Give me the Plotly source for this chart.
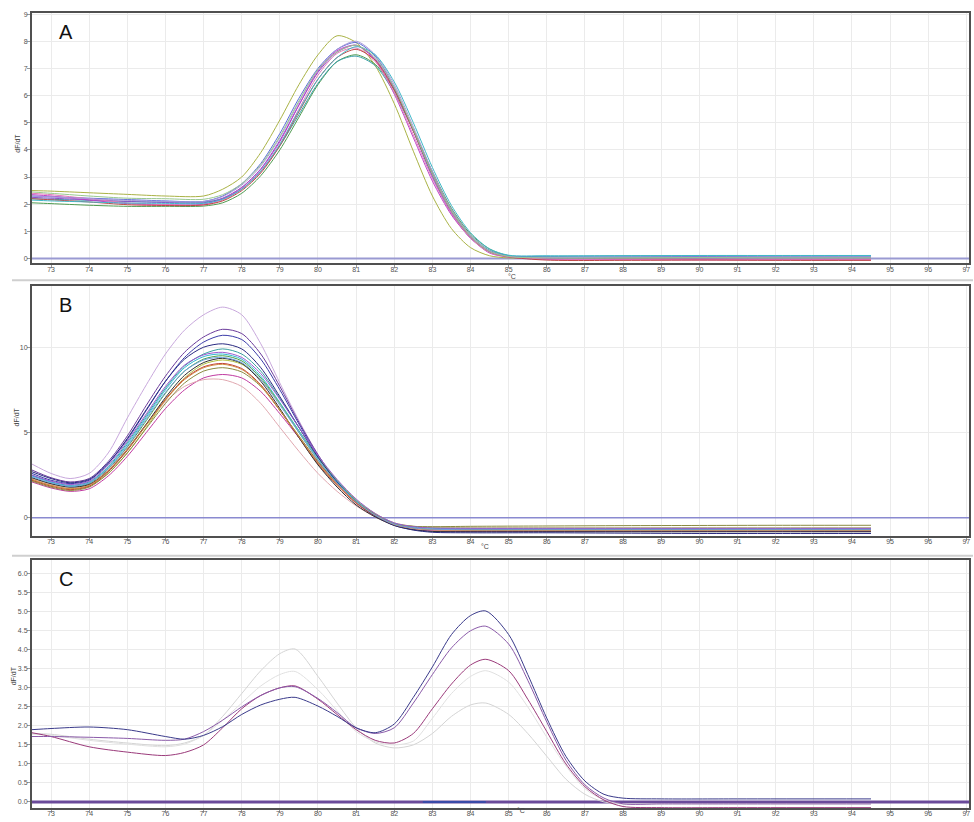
import plotly.graph_objects as go

# ---------------- data ----------------
X_TICKS = list(range(73, 98))

# Panel A
A_X = [72.5, 73, 74, 75, 76, 77, 77.5, 78, 78.5, 79, 79.5, 80, 80.5, 81, 81.5, 82, 82.5, 83, 83.5, 84, 84.5, 85, 86, 88, 90, 92, 94.5]
A_YELLOWGREEN = [2.5, 2.48, 2.42, 2.36, 2.3, 2.3, 2.55, 3.0, 3.9, 5.1, 6.4, 7.5, 8.2, 7.95, 7.1, 5.7, 3.95, 2.3, 1.1, 0.4, 0.1, 0.02, 0.0, 0.0, -0.02, -0.03, -0.03]
A_DARKGREEN = [2.05, 2.02, 1.96, 1.92, 1.92, 1.93, 2.05, 2.4, 3.05, 4.0, 5.2, 6.4, 7.25, 7.5, 7.15, 6.2, 4.75, 3.2, 1.85, 0.9, 0.35, 0.1, 0.02, 0.03, 0.04, 0.04, 0.04]
A_TEAL = [2.2, 2.18, 2.14, 2.1, 2.08, 2.08, 2.2, 2.55, 3.2, 4.15, 5.3, 6.45, 7.25, 7.45, 7.1, 6.1, 4.7, 3.15, 1.8, 0.85, 0.3, 0.1, 0.08, 0.1, 0.1, 0.1, 0.1]
A_BLUE = [2.3, 2.27, 2.22, 2.17, 2.12, 2.1, 2.3, 2.75, 3.5, 4.6, 5.9, 7.0, 7.7, 7.95, 7.45, 6.3, 4.7, 3.0, 1.65, 0.75, 0.25, 0.08, 0.05, 0.06, 0.07, 0.06, 0.06]
A_PURPLE = [2.25, 2.22, 2.16, 2.1, 2.06, 2.05, 2.22, 2.62, 3.3, 4.35, 5.65, 6.85, 7.6, 7.85, 7.35, 6.25, 4.7, 3.05, 1.7, 0.78, 0.25, 0.07, 0.0, -0.02, -0.02, -0.02, -0.02]
A_MAGENTA = [2.35, 2.3, 2.15, 2.02, 1.98, 2.0, 2.2, 2.6, 3.28, 4.3, 5.65, 6.9, 7.65, 7.85, 7.3, 6.05, 4.45, 2.85, 1.6, 0.75, 0.2, 0.05, -0.03, -0.04, -0.05, -0.05, -0.05]
A_PINK = [2.4, 2.35, 2.2, 2.05, 1.98, 1.98, 2.15, 2.55, 3.2, 4.2, 5.5, 6.75, 7.55, 7.75, 7.25, 6.1, 4.55, 2.95, 1.65, 0.75, 0.22, 0.06, -0.02, -0.03, -0.03, -0.03, -0.03]
A_RED = [2.2, 2.16, 2.08, 1.98, 1.95, 1.97, 2.12, 2.5, 3.15, 4.15, 5.4, 6.6, 7.4, 7.7, 7.3, 6.2, 4.7, 3.1, 1.75, 0.8, 0.25, 0.06, -0.06, -0.07, -0.06, -0.07, -0.07]
A_LAVENDER = [2.3, 2.27, 2.2, 2.14, 2.1, 2.1, 2.28, 2.7, 3.4, 4.45, 5.75, 6.95, 7.7, 8.0, 7.5, 6.4, 4.85, 3.2, 1.8, 0.85, 0.28, 0.08, 0.04, 0.05, 0.05, 0.05, 0.05]
A_CYAN = [2.15, 2.12, 2.08, 2.04, 2.03, 2.03, 2.18, 2.55, 3.22, 4.2, 5.45, 6.6, 7.4, 7.8, 7.5, 6.5, 5.0, 3.35, 1.95, 0.95, 0.35, 0.12, 0.1, 0.1, 0.11, 0.11, 0.11]
A_LIGHTGREEN = [2.45, 2.4, 2.3, 2.22, 2.2, 2.18, 2.35, 2.75, 3.45, 4.5, 5.8, 6.95, 7.6, 7.85, 7.4, 6.3, 4.75, 3.1, 1.75, 0.8, 0.25, 0.07, 0.02, 0.02, 0.03, 0.02, 0.02]

# Panel B
B_X = [72.5, 73, 73.5, 74, 74.5, 75, 75.5, 76, 76.5, 77, 77.5, 78, 78.5, 79, 79.5, 80, 80.5, 81, 81.5, 82, 82.5, 83, 84, 86, 88, 90, 92, 94.5]
B_LAVENDER = [3.15, 2.6, 2.3, 2.6, 3.8, 5.85, 7.8, 9.6, 11.0, 11.9, 12.35, 11.9, 10.2, 7.9, 5.7, 3.7, 2.1, 0.9, 0.1, -0.35, -0.5, -0.55, -0.58, -0.58, -0.58, -0.58, -0.58, -0.58]
B_DARKPURPLE = [2.8, 2.35, 2.1, 2.3, 3.3, 4.8, 6.6, 8.3, 9.7, 10.6, 11.05, 10.8, 9.6, 7.7, 5.6, 3.7, 2.1, 0.9, 0.1, -0.4, -0.62, -0.7, -0.72, -0.72, -0.72, -0.72, -0.72, -0.72]
B_BLUE = [2.6, 2.2, 2.0, 2.2, 3.2, 4.6, 6.3, 8.0, 9.4, 10.3, 10.7, 10.45, 9.3, 7.5, 5.5, 3.6, 2.1, 0.9, 0.1, -0.42, -0.68, -0.78, -0.8, -0.8, -0.8, -0.8, -0.8, -0.8]
B_TEAL = [2.5, 2.1, 1.9, 2.1, 3.0, 4.4, 6.0, 7.6, 8.9, 9.6, 9.9, 9.6, 8.6, 7.0, 5.3, 3.6, 2.2, 1.0, 0.2, -0.35, -0.6, -0.7, -0.72, -0.72, -0.72, -0.72, -0.72, -0.72]
B_GREEN = [2.3, 2.0, 1.8, 2.0, 2.85, 4.15, 5.7, 7.3, 8.6, 9.3, 9.5, 9.2, 8.2, 6.7, 5.0, 3.4, 2.05, 0.95, 0.15, -0.38, -0.6, -0.68, -0.7, -0.7, -0.7, -0.7, -0.7, -0.7]
B_YELLOWGREEN = [2.2, 1.9, 1.7, 1.85, 2.6, 3.8, 5.3, 6.9, 8.2, 9.0, 9.25, 9.0, 8.1, 6.7, 5.1, 3.55, 2.2, 1.05, 0.25, -0.3, -0.5, -0.58, -0.6, -0.6, -0.6, -0.6, -0.6, -0.6]
B_RED = [2.2, 1.85, 1.65, 1.85, 2.7, 3.95, 5.45, 6.95, 8.15, 8.85, 9.05, 8.75, 7.8, 6.3, 4.7, 3.15, 1.9, 0.85, 0.1, -0.4, -0.62, -0.7, -0.72, -0.72, -0.72, -0.72, -0.72, -0.72]
B_MAGENTA = [2.1, 1.75, 1.55, 1.7, 2.45, 3.6, 5.0, 6.4, 7.5, 8.2, 8.4, 8.2, 7.4, 6.1, 4.7, 3.25, 2.0, 0.95, 0.15, -0.4, -0.65, -0.75, -0.78, -0.78, -0.78, -0.78, -0.78, -0.78]
B_PINK = [2.3, 1.95, 1.75, 1.95, 2.8, 4.05, 5.5, 6.8, 7.7, 8.1, 8.1, 7.7, 6.7, 5.3, 3.9, 2.6, 1.55, 0.7, 0.05, -0.42, -0.65, -0.72, -0.75, -0.75, -0.75, -0.75, -0.75, -0.75]
B_BLACK = [2.35, 2.0, 1.8, 1.95, 2.75, 4.0, 5.5, 7.05, 8.35, 9.1, 9.35, 9.05, 8.0, 6.4, 4.7, 3.1, 1.8, 0.75, 0.05, -0.45, -0.7, -0.8, -0.82, -0.82, -0.82, -0.82, -0.82, -0.82]
B_CYAN = [2.45, 2.1, 1.85, 2.05, 2.95, 4.3, 5.9, 7.5, 8.8, 9.45, 9.6, 9.3, 8.3, 6.75, 5.1, 3.5, 2.15, 1.0, 0.2, -0.33, -0.55, -0.62, -0.64, -0.64, -0.64, -0.64, -0.64, -0.64]
B_NAVY = [2.7, 2.3, 2.05, 2.25, 3.2, 4.65, 6.35, 8.0, 9.3, 10.0, 10.2, 9.9, 8.8, 7.1, 5.3, 3.55, 2.1, 0.95, 0.12, -0.45, -0.72, -0.85, -0.88, -0.88, -0.9, -0.92, -0.92, -0.92]
B_OLIVE = [2.15, 1.8, 1.6, 1.8, 2.6, 3.8, 5.25, 6.7, 7.9, 8.6, 8.8, 8.55, 7.7, 6.3, 4.8, 3.3, 2.0, 0.95, 0.2, -0.35, -0.5, -0.52, -0.5, -0.48, -0.46, -0.45, -0.44, -0.44]
B_VIOLET = [2.5, 2.15, 1.95, 2.15, 3.1, 4.5, 6.1, 7.7, 8.95, 9.55, 9.7, 9.4, 8.45, 6.95, 5.3, 3.65, 2.25, 1.1, 0.25, -0.3, -0.52, -0.6, -0.62, -0.62, -0.62, -0.62, -0.62, -0.62]
B_ORANGE = [2.25, 1.9, 1.7, 1.9, 2.75, 4.0, 5.45, 6.9, 8.1, 8.8, 9.0, 8.7, 7.75, 6.3, 4.75, 3.2, 1.95, 0.9, 0.15, -0.4, -0.62, -0.7, -0.74, -0.74, -0.74, -0.74, -0.74, -0.74]
B_LIGHTBLUE = [2.4, 2.05, 1.85, 2.05, 2.9, 4.2, 5.8, 7.35, 8.6, 9.25, 9.4, 9.1, 8.1, 6.6, 5.0, 3.4, 2.05, 0.95, 0.15, -0.38, -0.6, -0.67, -0.7, -0.7, -0.7, -0.7, -0.7, -0.7]

# Panel C
C_X = [72.5, 73, 74, 75, 76, 76.5, 77, 77.5, 78, 78.5, 79, 79.4, 80, 80.5, 81, 81.5, 82, 82.5, 83, 83.5, 84, 84.4, 85, 85.5, 86, 86.5, 87, 87.5, 88, 89, 91, 94.5]
C_GRAY_1 = [1.8, 1.78, 1.65, 1.55, 1.48, 1.55, 1.75, 2.25, 2.85, 3.45, 3.9, 4.02, 3.3, 2.6, 1.95, 1.55, 1.42, 1.5, 1.8, 2.25, 2.55, 2.6, 2.3, 1.8, 1.2, 0.6, 0.2, 0.0, -0.05, -0.05, -0.05, -0.05]
C_GRAY_2 = [1.78, 1.75, 1.62, 1.52, 1.45, 1.52, 1.75, 2.15, 2.6, 3.05, 3.35, 3.43, 2.95, 2.4, 1.85, 1.58, 1.5, 1.6, 2.2, 2.85, 3.3, 3.45, 3.15, 2.5, 1.7, 0.95, 0.35, 0.05, -0.05, -0.05, -0.05, -0.05]
C_MAGENTA = [1.82, 1.72, 1.45, 1.31, 1.22, 1.3, 1.5, 1.95, 2.45, 2.8, 3.0, 3.05, 2.7, 2.3, 1.9, 1.62, 1.55, 1.8, 2.45, 3.1, 3.6, 3.75, 3.45, 2.7, 1.85, 1.0, 0.4, 0.05, -0.12, -0.15, -0.15, -0.15]
C_VIOLET = [1.72, 1.72, 1.7, 1.67, 1.62, 1.65, 1.85, 2.15, 2.5, 2.8, 3.0, 3.03, 2.72, 2.35, 1.95, 1.8, 1.95, 2.6, 3.35, 4.05, 4.5, 4.62, 4.15, 3.2, 2.1, 1.1, 0.45, 0.1, -0.05, -0.05, -0.05, -0.05]
C_NAVY = [1.9, 1.93, 1.97, 1.9, 1.72, 1.65, 1.75, 1.98, 2.3, 2.55, 2.7, 2.75, 2.52, 2.25, 1.95, 1.82, 2.05, 2.75, 3.55, 4.4, 4.9, 5.02, 4.4, 3.35, 2.2, 1.2, 0.55, 0.2, 0.1, 0.08, 0.08, 0.08]
C_SEG_X = [82.75, 84.4]
C_SEG_Y = [0, 0]

THRESH_X = [72.5, 97.1]
THRESH_Y = [0, 0]

A_SERIES = [
    (A_YELLOWGREEN, "#a9b245"), (A_DARKGREEN, "#4f9a4f"), (A_TEAL, "#3a9fa8"),
    (A_BLUE, "#5a6ad8"), (A_PURPLE, "#8a50c8"), (A_MAGENTA, "#c040c8"),
    (A_PINK, "#e07ab8"), (A_RED, "#c04848"), (A_LAVENDER, "#a898d8"),
    (A_CYAN, "#40b8c8"), (A_LIGHTGREEN, "#98c890"),
]
B_SERIES = [
    (B_LAVENDER, "#c8a8dc"), (B_DARKPURPLE, "#6a3a9a"), (B_BLUE, "#3a3aa8"),
    (B_TEAL, "#3aa0a0"), (B_GREEN, "#4aa04a"), (B_YELLOWGREEN, "#b0c040"),
    (B_RED, "#c03a3a"), (B_MAGENTA, "#c03aa0"), (B_PINK, "#e0a8b0"),
    (B_BLACK, "#303030"), (B_CYAN, "#30b8d0"), (B_NAVY, "#2a2a80"),
    (B_OLIVE, "#8a8a40"), (B_VIOLET, "#9a5ad0"), (B_ORANGE, "#d08a40"),
    (B_LIGHTBLUE, "#70a0e0"),
]
C_SERIES = [
    (C_GRAY_1, "#d4d4d4"), (C_GRAY_2, "#e0e0e0"), (C_MAGENTA, "#9a3a7a"),
    (C_VIOLET, "#8a5aa8"), (C_NAVY, "#3a3a8a"),
]

# ---------------- figure ----------------
fig = go.Figure()

def add_panel(xs, series, xa, ya, thresh_color, thresh_w):
    fig.add_trace(go.Scatter(x=THRESH_X, y=THRESH_Y, mode="lines",
                             line=dict(color=thresh_color, width=thresh_w),
                             xaxis=xa, yaxis=ya, showlegend=False, hoverinfo="skip"))
    for ys, col in series:
        fig.add_trace(go.Scatter(x=xs, y=ys, mode="lines",
                                 line=dict(color=col, width=1, shape="spline", smoothing=0.8),
                                 xaxis=xa, yaxis=ya, showlegend=False))

add_panel(A_X, A_SERIES, "x", "y", "#9a9ad2", 2)
add_panel(B_X, B_SERIES, "x2", "y2", "#8a8ad0", 1.5)
add_panel(C_X, C_SERIES, "x3", "y3", "#6a4a9a", 3)
fig.add_trace(go.Scatter(x=C_SEG_X, y=C_SEG_Y, mode="lines",
                         line=dict(color="#3a4aa8", width=2),
                         xaxis="x3", yaxis="y3", showlegend=False))

# body margin is removed by the post script, so work directly in page pixels
W, H = 974, 822

def px(p):
    return p / W

def py(p):
    return 1 - p / H

XDOM = [px(32), px(970)]
TICKFONT = dict(size=7, color="#555", family="Liberation Sans")

def xax(anchor):
    return dict(domain=XDOM, anchor=anchor, range=[72.5, 97.07],
                tickmode="array", tickvals=X_TICKS, ticktext=[str(t) for t in X_TICKS],
                ticks="outside", ticklen=3, tickcolor="#999", tickfont=TICKFONT,
                ticklabelstandoff=-5, ticklabeloverflow="allow",
                showgrid=True, gridcolor="#ebebeb", gridwidth=1,
                showline=True, linecolor="#505050", linewidth=2, mirror=True,
                zeroline=False)

def yax(top, bottom, anchor, rng, tickvals, fmt):
    return dict(domain=[py(bottom), py(top)], anchor=anchor, range=rng,
                tickmode="array", tickvals=tickvals, tickformat=fmt,
                ticks="outside", ticklen=3, tickcolor="#999", tickfont=TICKFONT,
                ticklabelstandoff=-2, ticklabeloverflow="allow",
                showgrid=True, gridcolor="#ebebeb", gridwidth=1,
                showline=True, linecolor="#505050", linewidth=2, mirror=True,
                zeroline=False)

fig.update_layout(
    width=W, height=H, margin=dict(l=0, r=0, t=0, b=0),
    paper_bgcolor="white", plot_bgcolor="white",
    xaxis=xax("y"),
    yaxis=yax(11, 262, "x", [-0.18, 9.04], list(range(0, 10)), "d"),
    xaxis2=xax("y2"),
    yaxis2=yax(285, 535, "x2", [-1.05, 13.57], [0, 5, 10], "d"),
    xaxis3=xax("y3"),
    yaxis3=yax(559, 808, "x3", [-0.16, 6.37], [i * 0.5 for i in range(13)], ".1f"),
)

ann = []
for lab, y in [("A", 30), ("B", 304), ("C", 578)]:
    ann.append(dict(text=lab, x=px(57), y=py(y), xref="paper", yref="paper",
                    xanchor="left", yanchor="middle", showarrow=False,
                    font=dict(size=20, color="#111", family="Liberation Sans")))
for x, y in [(12, 130), (12, 416), (8, 687)]:
    ann.append(dict(text="dF/dT", x=px(x), y=py(y), xref="paper", yref="paper",
                    textangle=-90, showarrow=False,
                    font=dict(size=7, color="#444", family="Liberation Sans")))
for x, y in [(513, 275), (485, 551), (522, 816)]:
    ann.append(dict(text="°C", x=px(x), y=py(y), xref="paper", yref="paper",
                    showarrow=False,
                    font=dict(size=7, color="#444", family="Liberation Sans")))
fig.update_layout(annotations=ann)

shapes = []
for y in [279, 555]:
    shapes.append(dict(type="line", xref="paper", yref="paper",
                       x0=px(12), x1=1, y0=py(y), y1=py(y),
                       line=dict(color="#cfcfcf", width=2)))
fig.update_layout(shapes=shapes)

fig.write_html(
    "out.html",
    config={"displayModeBar": False},
    post_script="document.body.style.margin='0';document.body.style.overflow='hidden';",
)
